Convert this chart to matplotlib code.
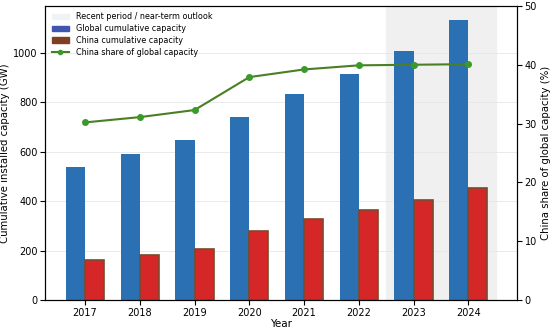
import numpy as np
import matplotlib
matplotlib.use("Agg")
import matplotlib.pyplot as plt
from matplotlib.patches import Patch

years = [2017, 2018, 2019, 2020, 2021, 2022, 2023, 2024]
global_gw = [540, 590, 648, 740, 834, 913, 1009, 1134]
china_gw = [161, 182, 208, 279, 327, 363, 404, 454]
china_share = [30.2, 31.1, 32.3, 37.9, 39.2, 39.9, 40.0, 40.1]

x = np.arange(len(years))
w = 0.35

fig, ax = plt.subplots(figsize=(5.5, 3.28), dpi=100)
ax2 = ax.twinx()

# recent period shading
ax.axvspan(5.5, 7.5, color="#f0f0f0", zorder=0)

ax.bar(x - w / 2, global_gw, w, color="#2a70b2", zorder=2)
ax.bar(x + w / 2, china_gw, w, color="#d62728", edgecolor="#7a4a2c",
       linewidth=1.2, zorder=2)
ax2.plot(x, china_share, color="#4a7f23", marker="o", markersize=4,
         markerfacecolor="#3a9a2a", markeredgecolor="#3a9a2a", linewidth=1.5)

ax.set_xticks(x)
ax.set_xticklabels(years, fontsize=7)
ax.set_xlim(-0.73, 7.89)
ax.set_ylim(0, 1190)
ax2.set_ylim(0, 50)
ax.tick_params(axis="y", labelsize=7, pad=2)
ax.tick_params(axis="x", pad=2)
ax2.tick_params(axis="y", labelsize=7, pad=2)
ax.set_xlabel("Year", fontsize=7.5, labelpad=1)
ax.set_ylabel("Cumulative installed capacity (GW)", fontsize=7.3, labelpad=2)
ax2.set_ylabel("China share of global capacity (%)", fontsize=7.3, labelpad=3)
ax.grid(axis="y", color="#e6e6e6", linewidth=0.6, zorder=1)
ax.set_axisbelow(True)

handles = [
    Patch(color="#eef3f3", label="Recent period / near-term outlook"),
    Patch(color="#3f55b0", label="Global cumulative capacity"),
    Patch(color="#7f3f22", label="China cumulative capacity"),
    plt.Line2D([], [], color="#4a7f23", marker="o", markersize=3,
               markerfacecolor="#3a9a2a", markeredgecolor="#3a9a2a",
               label="China share of global capacity"),
]
ax.legend(handles=handles, loc="upper left", fontsize=5.8, frameon=False,
          handlelength=2.2, borderaxespad=0.4, labelspacing=0.35)

plt.subplots_adjust(left=0.082, right=0.94, top=0.982, bottom=0.085)
plt.savefig("out.png")
